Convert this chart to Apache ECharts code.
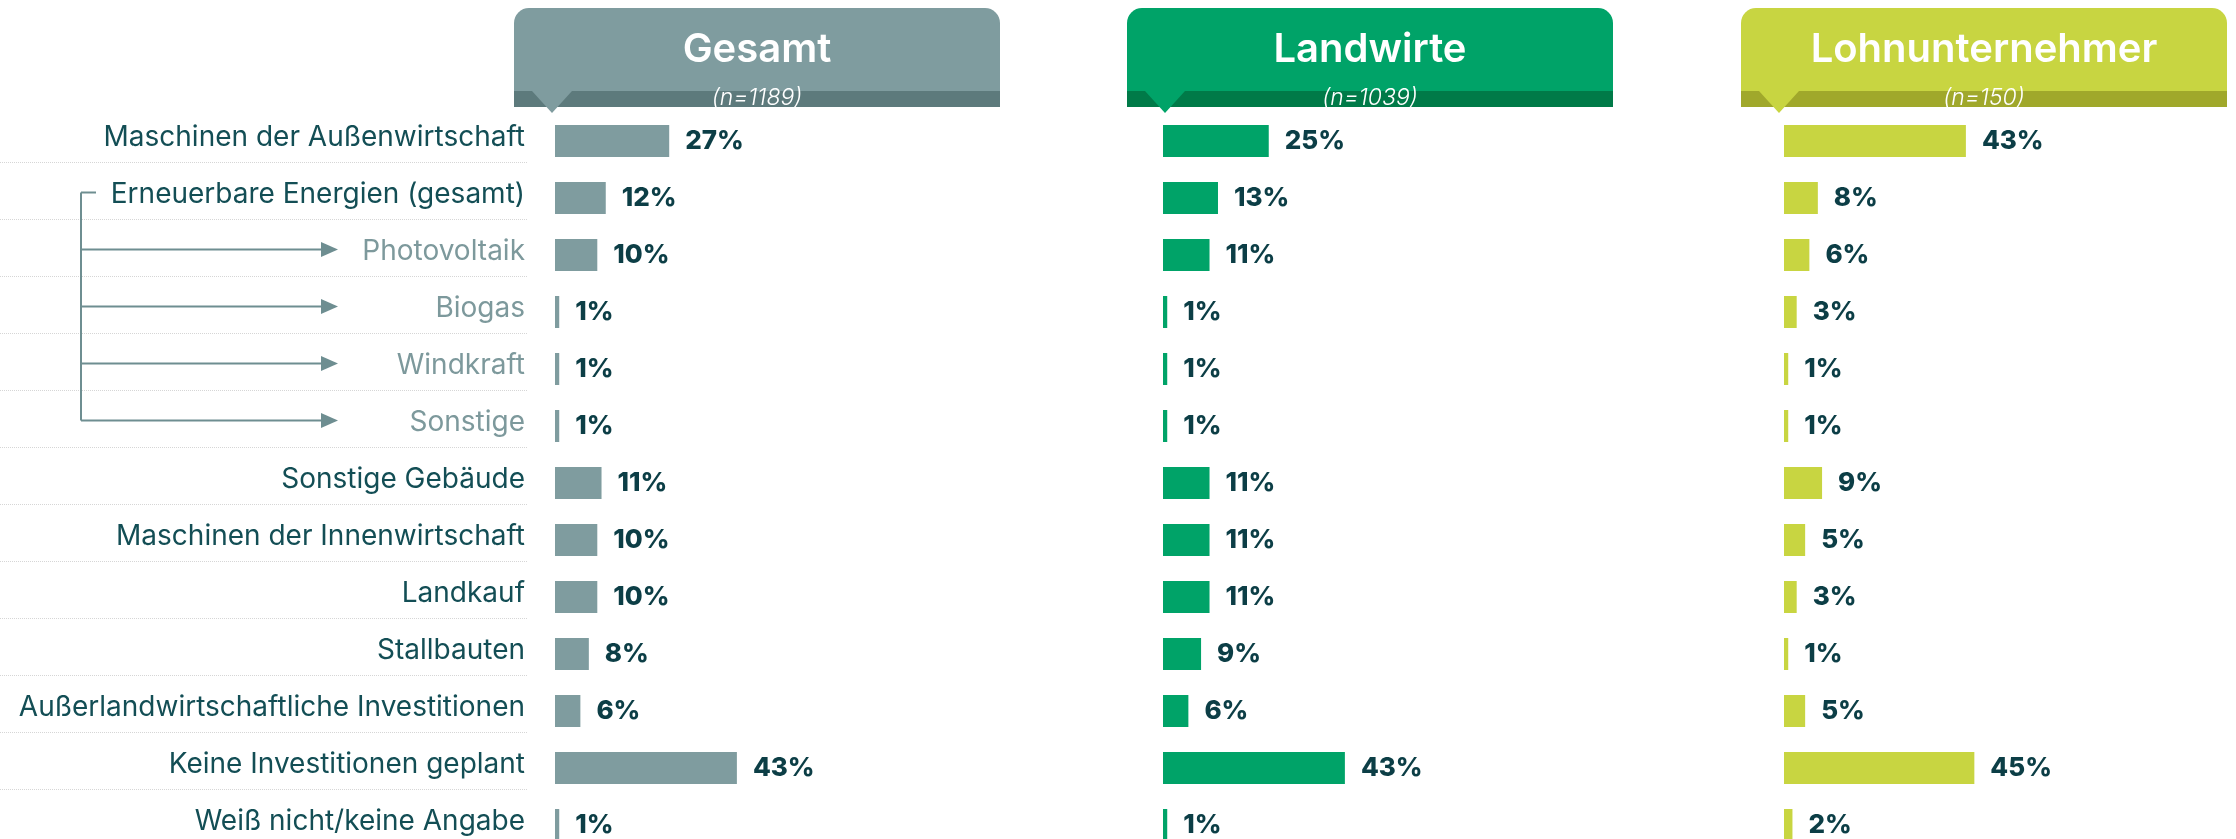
<!DOCTYPE html>
<html>
<head>
<meta charset="utf-8">
<title>Geplante Investitionen</title>
<script src="https://cdn.jsdelivr.net/npm/echarts@6/dist/echarts.min.js"></script>
<style>
    html, body { margin: 0; padding: 0; background: #fff; }
    #chart { width: 2236px; height: 839px; }
</style>
</head>
<body>
<div id="chart"></div>
<script>
var categories = [
    'Maschinen der Außenwirtschaft',
    'Erneuerbare Energien (gesamt)',
    'Photovoltaik',
    'Biogas',
    'Windkraft',
    'Sonstige',
    'Sonstige Gebäude',
    'Maschinen der Innenwirtschaft',
    'Landkauf',
    'Stallbauten',
    'Außerlandwirtschaftliche Investitionen',
    'Keine Investitionen geplant',
    'Weiß nicht/keine Angabe'
];
// Unterpunkte von "Erneuerbare Energien"
var subCategories = ['Photovoltaik', 'Biogas', 'Windkraft', 'Sonstige'];

var gesamtValues = [27, 12, 10, 1, 1, 1, 11, 10, 10, 8, 6, 43, 1];
var landwirteValues = [25, 13, 11, 1, 1, 1, 11, 11, 11, 9, 6, 43, 1];
var lohnValues = [43, 8, 6, 3, 1, 1, 9, 5, 3, 1, 5, 45, 2];

var groupNames = ['Gesamt', 'Landwirte', 'Lohnunternehmer'];
var groupSizes = ['(n=1189)', '(n=1039)', '(n=150)'];
var groupValues = [gesamtValues, landwirteValues, lohnValues];

var groupColors = ['#7f9c9f', '#00a368', '#c8d541'];
var groupDarkColors = ['#5d7a7c', '#007a48', '#a0a82b'];

var chart = echarts.init(document.getElementById('chart'));
var font = 'Inter, "Noto Sans", sans-serif';
var gridLefts = [555, 1163, 1784];
var headerLefts = [514, 1127, 1741];
var headerWidth = 486;
var rowTop = 112.5;
var rowHeight = 57;
var gridH = rowHeight * categories.length;
var pxPerPct = 4.23;

// Beschriftungsspalte links, die Trennlinien kommen von splitLine
var grids = [{left: 0, width: 528, top: 105, height: gridH, outerBoundsMode: 'none'}];
var xAxes = [{gridIndex: 0, type: 'value', show: false}];
var yAxes = [{
    gridIndex: 0,
    type: 'category',
    data: categories,
    inverse: true,
    position: 'right',
    axisLine: {show: false},
    axisTick: {show: false},
    axisLabel: {
        inside: true,
        margin: 3,
        padding: [8, 0, 0, 0],
        formatter: function (v) {
            return subCategories.indexOf(v) >= 0 ? '{sub|' + v + '}' : '{main|' + v + '}';
        },
        rich: {
            main: {color: '#134e55', fontSize: 28, fontFamily: font},
            sub: {color: '#7d999c', fontSize: 28, fontFamily: font}
        }
    },
    splitLine: {
        show: true,
        showMinLine: false,
        showMaxLine: false,
        lineStyle: {type: 'dotted', color: '#d6d6d6', width: 1}
    }
}];
var series = [];

groupValues.forEach(function (vals, g) {
    grids.push({left: gridLefts[g], top: rowTop, width: 100 * pxPerPct, height: gridH, outerBoundsMode: 'none'});
    xAxes.push({gridIndex: g + 1, type: 'value', min: 0, max: 100, show: false});
    yAxes.push({gridIndex: g + 1, type: 'category', data: categories, inverse: true, show: false});
    series.push({
        type: 'bar',
        name: groupNames[g],
        xAxisIndex: g + 1,
        yAxisIndex: g + 1,
        data: vals,
        barWidth: 32,
        silent: true,
        itemStyle: {color: groupColors[g]},
        label: {
            show: true,
            position: 'right',
            distance: 16,
            formatter: '{c}%',
            color: '#0c3e46',
            fontSize: 26,
            fontWeight: 800,
            fontFamily: font
        }
    });
});

var option = {
    animation: false,
    backgroundColor: '#fff',
    title: groupNames.map(function (name, g) {
        return {
            text: name,
            subtext: groupSizes[g],
            left: headerLefts[g] + headerWidth / 2,
            top: 30,
            textAlign: 'center',
            padding: 0,
            itemGap: 17,
            textStyle: {color: '#fff', fontSize: 40, fontWeight: 600, fontFamily: font},
            subtextStyle: {color: '#fff', fontSize: 23, fontWeight: 300, fontStyle: 'italic', fontFamily: font}
        };
    }),
    grid: grids,
    xAxis: xAxes,
    yAxis: yAxes,
    series: series
};
chart.setOption(option);

// Kopfboxen und Pfeile der Unterpunkte
var elements = [];
headerLefts.forEach(function (hl, g) {
    elements.push({
        type: 'rect', z: 1,
        shape: {x: hl, y: 8, width: headerWidth, height: 99, r: [15, 15, 0, 0]},
        style: {fill: groupColors[g]}
    });
    elements.push({
        type: 'rect', z: 2,
        shape: {x: hl, y: 91, width: headerWidth, height: 16},
        style: {fill: groupDarkColors[g]}
    });
    elements.push({
        type: 'polygon', z: 3,
        shape: {points: [[hl + 18, 91], [hl + 58, 91], [hl + 38, 113]]},
        style: {fill: groupColors[g]}
    });
});

function rowY(name) {
    return chart.convertToPixel({yAxisIndex: 0}, name);
}
var lineColor = '#6e8e91';
var topY = rowY(categories[1]) + 2;
var bottomY = rowY(subCategories[subCategories.length - 1]) + 2;
elements.push({
    type: 'line',
    shape: {x1: 81, y1: topY, x2: 81, y2: bottomY},
    style: {stroke: lineColor, lineWidth: 2}
});
elements.push({
    type: 'line',
    shape: {x1: 81, y1: topY, x2: 96, y2: topY},
    style: {stroke: lineColor, lineWidth: 2}
});
subCategories.forEach(function (name) {
    var y = rowY(name) + 2;
    elements.push({
        type: 'line',
        shape: {x1: 81, y1: y, x2: 324, y2: y},
        style: {stroke: lineColor, lineWidth: 2}
    });
    elements.push({
        type: 'polygon',
        shape: {points: [[321, y - 7.5], [338, y], [321, y + 7.5]]},
        style: {fill: lineColor}
    });
});

chart.setOption({graphic: {elements: elements}});
</script>
</body>
</html>
